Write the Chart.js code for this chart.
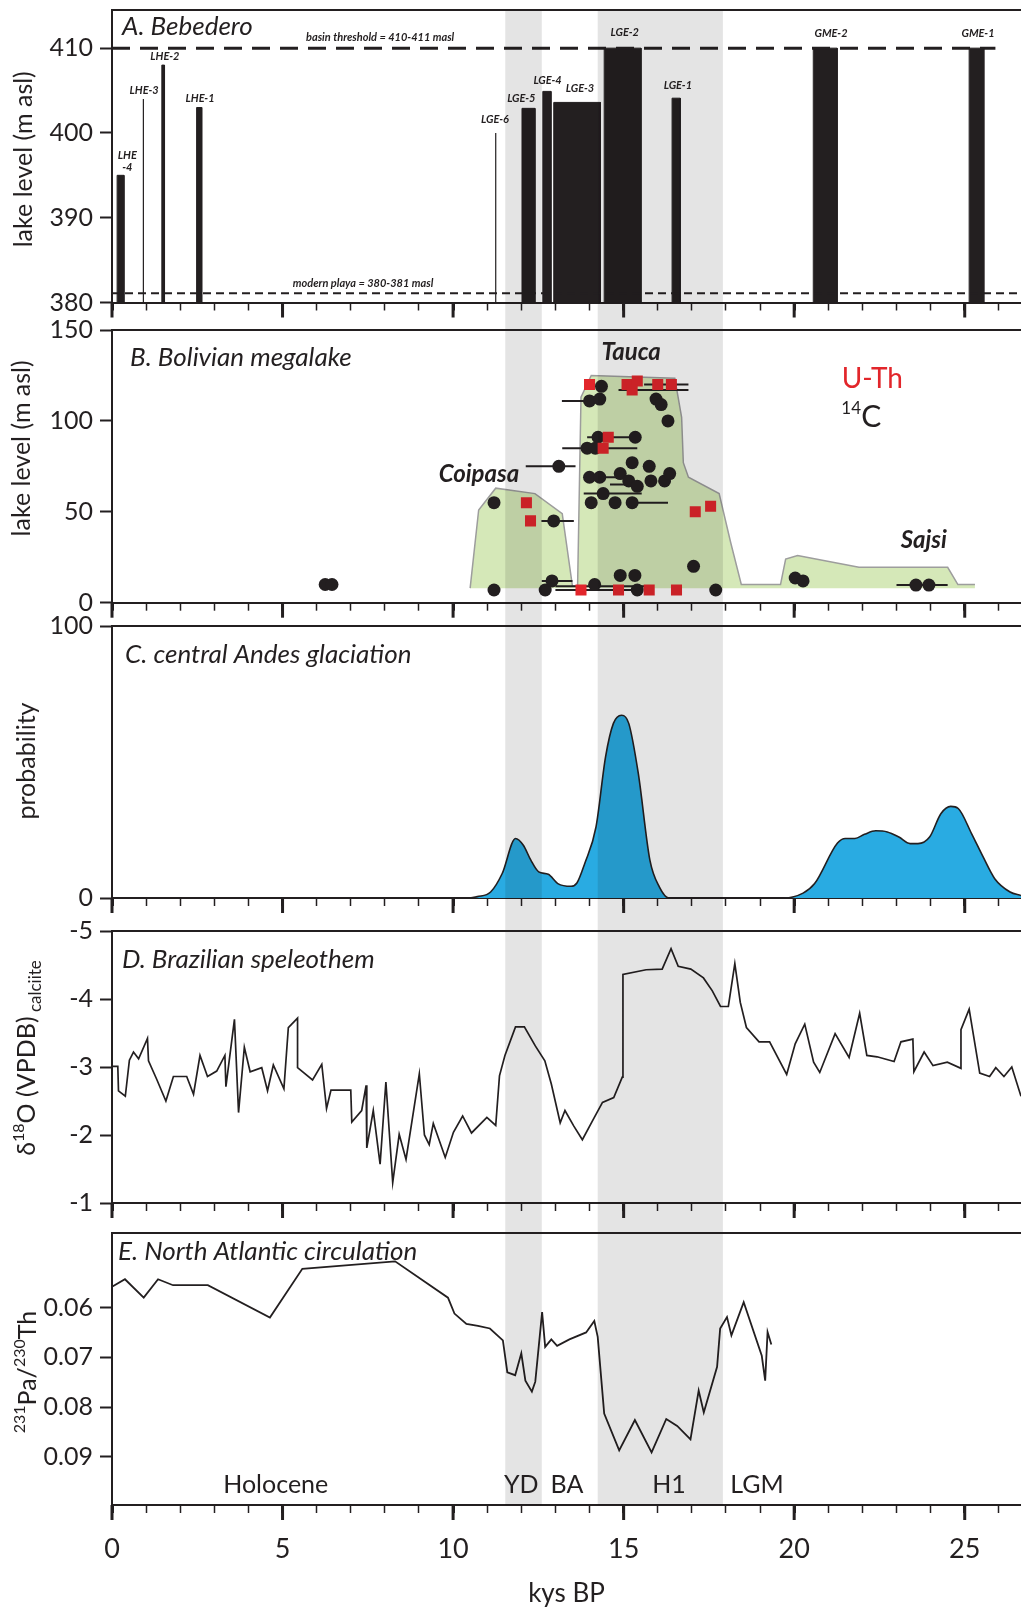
<!DOCTYPE html>
<html>
<head>
<meta charset="utf-8">
<script src="https://cdn.jsdelivr.net/npm/chart.js@4.4.1/dist/chart.umd.min.js"></script>
<style>
html, body { margin: 0; padding: 0; background: #fff; }
#page { position: relative; width: 1021px; height: 1609px; overflow: hidden; }
canvas { position: absolute; left: 0; }
</style>
</head>
<body>
<div id="page">
  <canvas id="panelA" width="1021" height="320" style="top:0px"></canvas>
  <canvas id="panelB" width="1021" height="314" style="top:306px"></canvas>
  <canvas id="panelC" width="1021" height="308" style="top:608px"></canvas>
  <canvas id="panelD" width="1021" height="316" style="top:904px"></canvas>
  <canvas id="panelE" width="1021" height="401" style="top:1208px"></canvas>
</div>
<script>
// ---- shared time axis (kys BP) ----
const xMin = 0, xMax = 26.65;
const xMinorTicks = [0, 1, 2, 3, 4, 5, 6, 7, 8, 9, 10, 11, 12, 13, 14, 15, 16, 17, 18, 19, 20, 21, 22, 23, 24, 25, 26];
const xMajorTicks = [0, 5, 10, 15, 20, 25];
// grey bands: YD and H1
const bandStart = [11.53, 14.24];
const bandEnd = [12.6, 17.91];

// ---- A. Bebedero ----
const yTicksA = [380, 390, 400, 410];
const barStart = [0.15, 1.46, 2.48, 12.02, 12.63, 12.95, 14.43, 16.42, 20.56, 25.13];
const barEnd = [0.35, 1.54, 2.63, 12.4, 12.87, 14.32, 15.51, 16.66, 21.26, 25.56];
const barTop = [395, 408, 403, 402.9, 404.9, 403.6, 410, 404.1, 410, 410];
const markerX = [0.92, 11.25];
const markerTop = [404, 400];
const basinLevel = 410, basinEnd = 25.9;
const playaLevel = 381.1;
const barLabelText = ['LHE\n-4', 'LHE-3', 'LHE-2', 'LHE-1', 'LGE-6', 'LGE-5', 'LGE-4', 'LGE-3', 'LGE-2', 'LGE-1', 'GME-2', 'GME-1'];
const barLabelX = [0.45, 0.94, 1.55, 2.58, 11.23, 12.0, 12.77, 13.72, 15.03, 16.59, 21.08, 25.39];
const barLabelY = [397.4, 405, 409, 404.1, 401.6, 404.1, 406.2, 405.2, 411.8, 405.6, 411.7, 411.7];

// ---- B. Bolivian megalake ----
const yTicksB = [0, 50, 100, 150];
const polyX = [10.5, 10.75, 11.25, 12.4, 13.2, 13.5, 13.65, 13.75, 14.05, 16.5, 16.7, 16.75, 16.9, 17.8, 18.14, 18.45, 19.6, 19.75, 20.1, 21.9, 24.5, 24.8, 25.3];
const polyY = [8, 51, 63, 60, 49, 9, 9, 113, 125, 123.5, 102, 77, 69, 60, 33, 10, 10, 24, 26, 19.5, 19.5, 10, 10];
const c14X = [6.25, 6.45, 11.2, 11.2, 13.1, 12.95, 12.7, 12.9, 14.0, 14.35, 14.3, 14.25, 15.34, 13.93, 14.17,
  14.0, 14.3, 15.25, 14.9, 15.15, 15.4, 15.75, 15.8, 16.2, 16.35, 14.4, 14.05, 14.75, 15.25,
  15.95, 16.1, 16.3, 17.05, 17.7, 14.15, 14.9, 15.33, 15.4, 20.03, 20.26, 23.57, 23.95];
const c14Y = [10, 10, 55, 7, 75, 45, 7, 12, 111, 119, 112, 91, 91, 85, 85,
  69, 69, 77, 71, 67, 64, 75, 67, 67, 71, 60, 55, 55, 55,
  112, 109, 100, 20, 7, 10, 15, 15, 7, 13.6, 12, 9.7, 9.7];
const uthX = [14.0, 15.1, 15.4, 15.25, 16.0, 16.4, 14.55, 14.4, 12.15, 12.27, 13.75, 14.85, 15.75, 16.55, 17.1, 17.55];
const uthY = [120, 120, 122, 117, 120, 120, 91, 85, 55, 45, 7, 7, 7, 7, 50, 53];
const errLevel = [75, 45, 12, 111, 91, 85, 60, 55, 65, 69, 9, 7, 117, 120, 9.7];
const errFrom = [12.13, 12.59, 12.6, 13.19, 13.93, 13.2, 13.83, 15.24, 14.6, 14.3, 13.0, 13.0, 14.85, 15.6, 23.0];
const errTo = [13.59, 13.54, 13.5, 14.0, 15.34, 15.4, 15.53, 16.3, 15.4, 14.85, 15.63, 15.4, 16.9, 16.9, 24.5];
const lakeNames = ['Tauca', 'Coipasa', 'Sajsi'];
const lakeX = [15.22, 10.76, 23.8];
const lakeY = [138, 70.4, 34.2];

// ---- C. central Andes glaciation ----
const yTicksC = [0, 100];
const glacX = [10.5, 10.71, 11.1, 11.44, 11.83, 12.06, 12.28, 12.51, 12.79, 13.07, 13.46, 13.63, 13.86, 14.19, 14.47, 14.7, 14.94, 15.15, 15.43, 15.77, 16.05, 16.33,
  19.7, 20.26, 20.6, 21.27, 21.5, 21.78, 22.06, 22.39, 22.73, 23.07, 23.4, 23.63, 23.97, 24.3, 24.59, 24.81, 25.2, 25.54, 25.88, 26.33, 26.65];
const glacP = [0, 0.5, 2.2, 9, 21.9, 19.4, 13.9, 9.6, 8.7, 5.3, 4.3, 5.5, 12.7, 26.1, 51.9, 64.2, 67.2, 64.2, 45.8, 13.9, 4, 0,
  0, 1.8, 5.3, 20.2, 21.9, 21.9, 23.4, 24.7, 24.3, 22.4, 20, 20, 22.4, 31, 33.7, 32.9, 23.7, 15.1, 7.1, 2.2, 0.9];

// ---- D. Brazilian speleothem ----
const yTicksD = [-5, -4, -3, -2, -1];
const spelX = [0, 0.17, 0.19, 0.39, 0.51, 0.63, 0.78, 1.04, 1.07, 1.31, 1.58, 1.8, 2.19, 2.39, 2.58, 2.8, 3.07, 3.31, 3.34, 3.59,
  3.71, 3.88, 4.05, 4.39, 4.56, 4.73, 5.04, 5.17, 5.44, 5.44, 5.88, 6.15, 6.29, 6.42, 7.0, 7.03, 7.32, 7.45, 7.47, 7.66,
  7.86, 8.03, 8.23, 8.42, 8.62, 9.01, 9.16, 9.3, 9.42, 9.77, 10.01, 10.28, 10.54, 10.99, 11.25, 11.36, 11.52, 11.83, 12.09, 12.41,
  12.69, 12.88, 13.14, 13.28, 13.54, 13.79, 14.09, 14.38, 14.71, 14.96, 14.98, 15.66, 16.13, 16.39, 16.6, 16.97, 17.34, 17.6, 17.84, 18.07,
  18.26, 18.42, 18.6, 18.97, 19.28, 19.78, 20.03, 20.31, 20.57, 20.75, 21.2, 21.61, 21.92, 22.13, 22.43, 22.93, 23.13, 23.48, 23.51, 23.81,
  24.07, 24.49, 24.89, 24.89, 25.13, 25.44, 25.73, 25.91, 26.15, 26.38, 26.65];
const spelD18O = [-3.01, -3.01, -2.65, -2.57, -3.1, -3.22, -3.12, -3.42, -3.09, -2.82, -2.5, -2.86, -2.86, -2.6, -3.17, -2.86, -2.94, -3.17, -2.71, -3.7,
  -2.33, -3.29, -2.93, -2.99, -2.65, -3.03, -2.68, -3.58, -3.72, -2.99, -2.81, -3.04, -2.39, -2.66, -2.66, -2.19, -2.36, -2.73, -1.81, -2.36,
  -1.57, -2.78, -1.3, -2.01, -1.64, -2.9, -2.0, -1.86, -2.17, -1.67, -2.04, -2.28, -2.03, -2.26, -2.14, -2.87, -3.17, -3.59, -3.59, -3.31,
  -3.09, -2.75, -2.18, -2.36, -2.13, -1.93, -2.21, -2.48, -2.55, -2.85, -4.36, -4.43, -4.44, -4.74, -4.48, -4.44, -4.31, -4.12, -3.89, -3.89,
  -4.52, -3.95, -3.58, -3.37, -3.37, -2.89, -3.34, -3.63, -3.07, -2.92, -3.49, -3.14, -3.79, -3.17, -3.15, -3.08, -3.37, -3.41, -2.93, -3.22,
  -3.02, -3.07, -2.98, -3.55, -3.85, -2.91, -2.86, -2.99, -2.86, -3.0, -2.57];

// ---- E. North Atlantic circulation ----
const yTicksE = [0.06, 0.07, 0.08, 0.09];
const paX = [0, 0.38, 0.93, 1.35, 1.79, 2.81, 4.63, 5.58, 8.3, 9.85, 10.04, 10.39, 10.73, 11.08, 11.46, 11.59, 11.82, 12.0, 12.12, 12.31,
  12.41, 12.61, 12.7, 12.88, 13.05, 13.41, 13.9, 14.14, 14.24, 14.43, 14.87, 15.33, 15.82, 16.25, 16.57, 16.96, 17.2, 17.35, 17.74, 17.83,
  18.03, 18.16, 18.52, 19.05, 19.15, 19.22, 19.33];
const paTh = [0.0558, 0.0543, 0.058, 0.0543, 0.0555, 0.0555, 0.062, 0.0522, 0.0507, 0.058, 0.0612, 0.0633, 0.0637, 0.0642, 0.0666, 0.073, 0.0736, 0.0692, 0.0747, 0.0769,
  0.0749, 0.0609, 0.0679, 0.0664, 0.0677, 0.0664, 0.065, 0.0627, 0.0659, 0.0813, 0.0887, 0.0826, 0.0891, 0.0824, 0.0838, 0.0865, 0.0767, 0.0811, 0.0719, 0.0642,
  0.0619, 0.0656, 0.0589, 0.0697, 0.0747, 0.0649, 0.0674];
const periodNames = ['Holocene', 'YD', 'BA', 'H1', 'LGM'];
const periodX = [4.8, 12.0, 13.34, 16.33, 18.91];
const periodLevel = 0.0957;

const INK = '#231f20';
const FONT = 'Lato, "DejaVu Sans", sans-serif';
Chart.defaults.font.family = FONT;
Chart.defaults.color = INK;

function pts(xs, ys) {
    return xs.map((x, i) => ({ x: x, y: ys[i] }));
}

// scales keep no label padding so the plot box sits exactly where we put it
function noPad(s) {
    s.paddingTop = 0; s.paddingBottom = 0; s.paddingLeft = 0; s.paddingRight = 0;
}

function xScale(showLabels, height) {
    return {
        type: 'linear', min: xMin, max: xMax,
        afterBuildTicks: s => { s.ticks = xMinorTicks.map(v => ({ value: v })); },
        afterFit: s => { s.height = height; noPad(s); },
        grid: {
            drawOnChartArea: false, drawTicks: true, tickLength: 8, tickColor: INK,
            tickWidth: c => (c.tick && xMajorTicks.includes(c.tick.value)) ? 3 : 1.5
        },
        border: { display: true, color: INK, width: 2 },
        ticks: {
            display: showLabels, autoSkip: false, maxRotation: 0, padding: 20,
            font: { size: 27 }, color: INK,
            callback: v => xMajorTicks.includes(v) ? String(v) : ''
        },
        title: { display: showLabels, text: 'kys BP', font: { size: 26 }, color: INK, padding: { top: 0, bottom: 0 } }
    };
}

function yScale(min, max, ticks, extra) {
    return Object.assign({
        type: 'linear', position: 'left', min: min, max: max,
        afterBuildTicks: s => { s.ticks = ticks.map(v => ({ value: v })); },
        afterFit: s => { s.width = 112; noPad(s); },
        grid: { drawOnChartArea: false, tickLength: 12, tickWidth: 2, tickColor: INK },
        border: { display: true, color: INK, width: 2 },
        ticks: { font: { size: 25 }, color: INK, padding: 7 }
    }, extra || {});
}

// rotated axis title made of runs (for super/subscripts)
function drawRotated(ctx, runs, cx, cy) {
    ctx.save();
    ctx.translate(cx, cy);
    ctx.rotate(-Math.PI / 2);
    ctx.textBaseline = 'middle';
    ctx.textAlign = 'left';
    ctx.fillStyle = INK;
    const widths = runs.map(r => { ctx.font = r.size + 'px ' + FONT; return ctx.measureText(r.t).width; });
    let x = -widths.reduce((p, w) => p + w, 0) / 2;
    runs.forEach((r, i) => {
        ctx.font = r.size + 'px ' + FONT;
        ctx.fillText(r.t, x, r.dy || 0);
        x += widths[i];
    });
    ctx.restore();
}

function textAt(chart, text, x, y, font, color) {
    const ctx = chart.ctx;
    ctx.font = font;
    ctx.fillStyle = color || INK;
    ctx.textAlign = 'center';
    ctx.textBaseline = 'middle';
    const px = chart.scales.x.getPixelForValue(x);
    const py = chart.scales.y.getPixelForValue(y);
    text.split('\n').forEach((line, i) => ctx.fillText(line, px, py + i * 12));
}

function makePanel(id, spec) {
    const deco = {
        id: 'panelDeco',
        afterDatasetsDraw(chart) {
            const ctx = chart.ctx;
            const xs = chart.scales.x;
            ctx.save();
            ctx.globalCompositeOperation = 'multiply';
            ctx.fillStyle = '#e4e4e4';
            bandStart.forEach((s, i) => {
                const x0 = xs.getPixelForValue(s);
                const x1 = xs.getPixelForValue(bandEnd[i]);
                ctx.fillRect(x0, spec.bandTop, x1 - x0, spec.bandBottom - spec.bandTop);
            });
            ctx.restore();
        },
        afterDraw(chart) {
            const ctx = chart.ctx;
            const a = chart.chartArea;
            const xs = chart.scales.x;
            ctx.save();
            // top frame line
            ctx.strokeStyle = INK;
            ctx.lineWidth = 2;
            ctx.beginPath();
            ctx.moveTo(a.left - 1, a.top);
            ctx.lineTo(a.right, a.top);
            ctx.stroke();
            // longer major ticks every 5 ky
            ctx.lineWidth = 3;
            xMajorTicks.forEach(v => {
                const x = xs.getPixelForValue(v);
                ctx.beginPath();
                ctx.moveTo(x, a.bottom);
                ctx.lineTo(x, a.bottom + 15);
                ctx.stroke();
            });
            // panel title
            ctx.fillStyle = INK;
            ctx.font = 'italic 26px ' + FONT;
            ctx.textAlign = 'left';
            ctx.textBaseline = 'middle';
            ctx.fillText(spec.title, a.left + spec.titleDx, a.top + spec.titleDy);
            drawRotated(ctx, spec.yTitle, spec.yTitleX, (a.top + a.bottom) / 2 + spec.yTitleDy);
            if (spec.decorate) spec.decorate(chart);
            ctx.restore();
        }
    };
    return new Chart(document.getElementById(id), {
        type: 'line',
        data: { datasets: spec.datasets },
        options: {
            responsive: false,
            animation: false,
            events: [],
            layout: { autoPadding: false, padding: { top: spec.padTop, left: 0, right: 0, bottom: 0 } },
            plugins: { legend: { display: false }, tooltip: { enabled: false } },
            scales: { x: spec.x, y: spec.y }
        },
        plugins: [deco]
    });
}

// A. Bebedero (first dataset is drawn on top)
makePanel('panelA', {
    padTop: 10, bandTop: 10, bandBottom: 318,
    title: 'A. Bebedero', titleDx: 10, titleDy: 17,
    yTitle: [{ t: 'lake level (m asl)', size: 25 }], yTitleX: 24, yTitleDy: 3,
    x: xScale(false, 17.5),
    y: yScale(380, 414.5, yTicksA),
    datasets: [
        { data: [{ x: 0, y: basinLevel }, { x: basinEnd, y: basinLevel }], borderColor: INK, borderWidth: 3, borderDash: [18, 10], pointRadius: 0 },
        { data: [{ x: 0, y: playaLevel }, { x: xMax, y: playaLevel }], borderColor: INK, borderWidth: 2, borderDash: [8, 5], pointRadius: 0 }
    ].concat(markerX.map((x, i) => ({
        data: [{ x: x, y: 380 }, { x: x, y: markerTop[i] }], borderColor: INK, borderWidth: 1.2, pointRadius: 0
    }))).concat(barStart.map((s, i) => ({
        data: [{ x: s, y: 380 }, { x: s, y: barTop[i] }, { x: barEnd[i], y: barTop[i] }, { x: barEnd[i], y: 380 }],
        fill: { value: 380 }, backgroundColor: INK, borderColor: INK, borderWidth: 1, pointRadius: 0
    }))),
    decorate: chart => {
        barLabelText.forEach((t, i) => textAt(chart, t, barLabelX[i], barLabelY[i], 'italic bold 11px ' + FONT));
        textAt(chart, 'basin threshold = 410-411 masl', 7.86, 411.25, 'italic bold 11px ' + FONT);
        textAt(chart, 'modern playa = 380-381 masl', 7.36, 382.3, 'italic bold 11px ' + FONT);
    }
});

// B. Bolivian megalake
const errData = [];
errLevel.forEach((lv, i) => {
    errData.push({ x: errFrom[i], y: lv }, { x: errTo[i], y: lv }, { x: errTo[i], y: null });
});
makePanel('panelB', {
    padTop: 24, bandTop: 12, bandBottom: 314,
    title: 'B. Bolivian megalake', titleDx: 18, titleDy: 28,
    yTitle: [{ t: 'lake level (m asl)', size: 25 }], yTitleX: 22, yTitleDy: -18,
    x: xScale(false, 17.3),
    y: yScale(0, 150, yTicksB),
    datasets: [
        { data: pts(uthX, uthY), showLine: false, pointStyle: 'rect', pointRadius: 7.8, pointBackgroundColor: '#e2262b', pointBorderWidth: 0 },
        { data: pts(c14X, c14Y), showLine: false, pointRadius: 6.5, pointBackgroundColor: INK, pointBorderWidth: 0 },
        { data: errData, borderColor: INK, borderWidth: 2, pointRadius: 0, spanGaps: false },
        { data: pts(polyX, polyY), fill: { value: 8 }, backgroundColor: '#d5e8b8', borderColor: '#9d9d9d', borderWidth: 1.5, pointRadius: 0 }
    ],
    decorate: chart => {
        lakeNames.forEach((n, i) => textAt(chart, n, lakeX[i], lakeY[i], 'italic bold 24px ' + FONT));
        textAt(chart, 'U-Th', 22.29, 122.9, '28px ' + FONT, '#e2262b');
        textAt(chart, '14', 21.67, 107, '17px ' + FONT);
        textAt(chart, 'C', 22.26, 102, '30px ' + FONT);
    }
});

// C. central Andes glaciation
makePanel('panelC', {
    padTop: 18, bandTop: 12, bandBottom: 308,
    title: 'C. central Andes glaciation', titleDx: 13, titleDy: 29,
    yTitle: [{ t: 'probability', size: 25 }], yTitleX: 27, yTitleDy: -1,
    x: xScale(false, 18),
    y: yScale(0, 100, yTicksC),
    datasets: [
        { data: pts(glacX, glacP), fill: 'origin', backgroundColor: '#29abe2', borderColor: INK, borderWidth: 1.6,
          cubicInterpolationMode: 'monotone', pointRadius: 0 }
    ]
});

// D. Brazilian speleothem
makePanel('panelD', {
    padTop: 27, bandTop: 12, bandBottom: 316,
    title: 'D. Brazilian speleothem', titleDx: 10, titleDy: 29,
    yTitle: [{ t: '\u03b4', size: 25 }, { t: '18', size: 16, dy: -8 }, { t: 'O (VPDB)', size: 25 }, { t: ' calciite', size: 17, dy: 9 }],
    yTitleX: 27, yTitleDy: -9,
    x: xScale(false, 17),
    y: yScale(-5, -1, yTicksD, { reverse: true }),
    datasets: [
        { data: pts(spelX, spelD18O), borderColor: INK, borderWidth: 1.7, pointRadius: 0, fill: false }
    ]
});

// E. North Atlantic circulation
makePanel('panelE', {
    padTop: 25, bandTop: 12, bandBottom: 297,
    title: 'E. North Atlantic circulation', titleDx: 6, titleDy: 19,
    yTitle: [{ t: '231', size: 16, dy: -8 }, { t: 'Pa/', size: 25 }, { t: '230', size: 16, dy: -8 }, { t: 'Th', size: 25 }],
    yTitleX: 28, yTitleDy: 3,
    x: xScale(true, 104),
    y: yScale(0.045, 0.0997, yTicksE, { reverse: true }),
    datasets: [
        { data: pts(paX, paTh), borderColor: INK, borderWidth: 1.8, pointRadius: 0, fill: false }
    ],
    decorate: chart => {
        periodNames.forEach((n, i) => textAt(chart, n, periodX[i], periodLevel, '25px ' + FONT));
    }
});
</script>
</body>
</html>
